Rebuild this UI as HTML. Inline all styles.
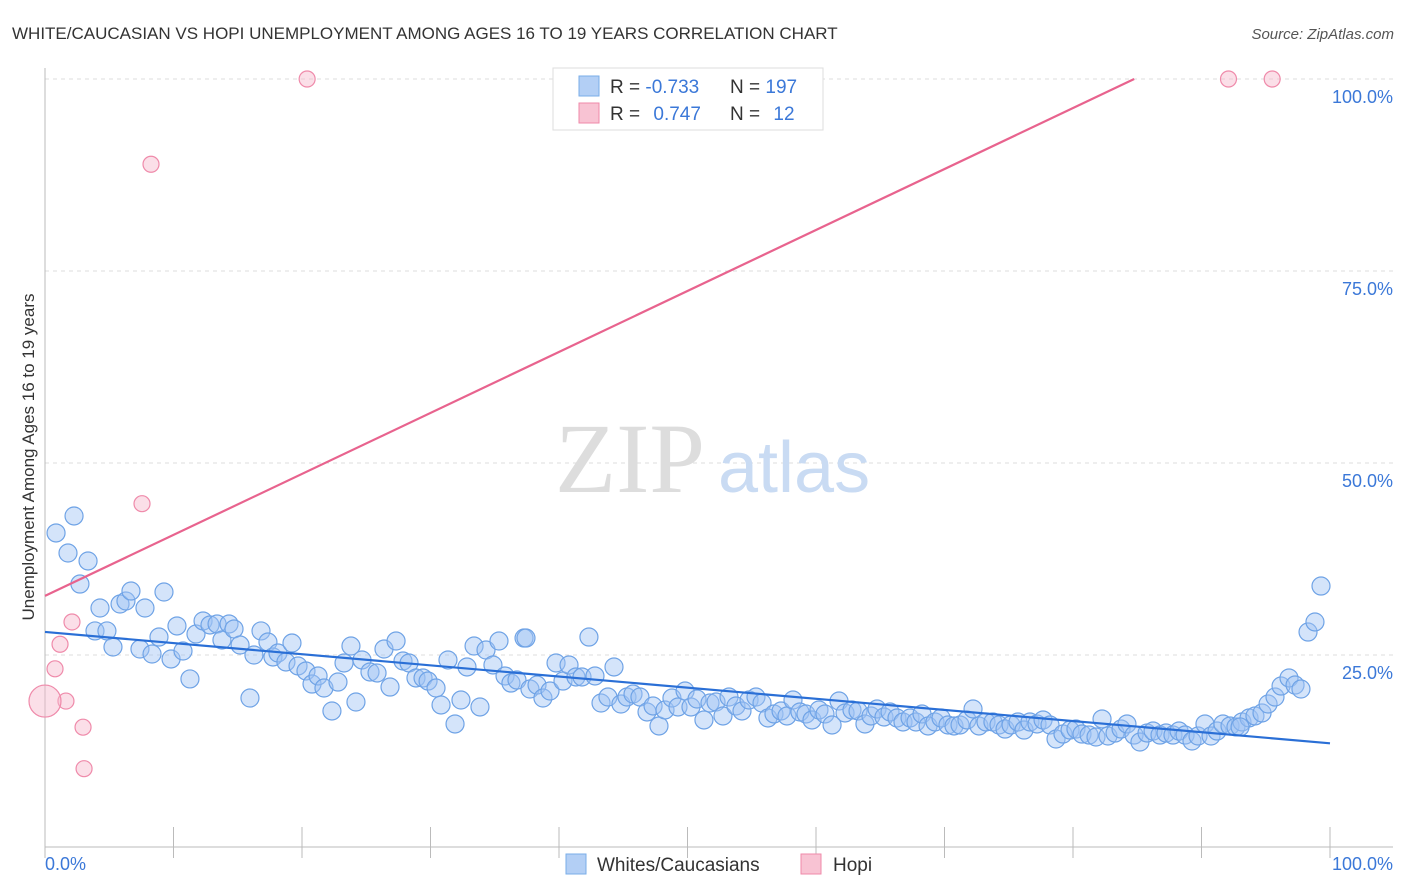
<!DOCTYPE html>
<html><head><meta charset="utf-8"><style>
body{margin:0;background:#fff;font-family:"Liberation Sans",sans-serif}
svg{display:block}
</style></head><body>
<svg id="c" width="1406" height="892">
<text x="12" y="39" font-size="17" fill="#333">WHITE/CAUCASIAN VS HOPI UNEMPLOYMENT AMONG AGES 16 TO 19 YEARS CORRELATION CHART</text>
<text x="1394" y="39" font-size="15" fill="#555" font-style="italic" text-anchor="end">Source: ZipAtlas.com</text>
<g id="grid"></g>
<text x="555" y="492" font-size="100" font-family="Liberation Serif,serif" fill="#ddd">ZIP</text>
<text x="718" y="492" font-size="72" fill="#c9dbf3">atlas</text>
<g id="marks"></g>
<text transform="translate(34,457) rotate(-90)" font-size="17" fill="#333" text-anchor="middle">Unemployment Among Ages 16 to 19 years</text>
<g>
<rect x="553" y="68" width="270" height="62" fill="#fff" stroke="#ddd"/>
<rect x="579" y="76" width="20" height="20" fill="#b3cff5" stroke="#7aaee8"/>
<rect x="579" y="103" width="20" height="20" fill="#f8c3d3" stroke="#ef8aaa"/>
<text x="610" y="93" font-size="19" fill="#333">R = <tspan fill="#3b78d8">-0.733</tspan></text>
<text x="730" y="93" font-size="19" fill="#333">N = <tspan fill="#3b78d8">197</tspan></text>
<text x="610" y="120" font-size="19" fill="#333">R = <tspan fill="#3b78d8" dx="8">0.747</tspan></text>
<text x="730" y="120" font-size="19" fill="#333">N = <tspan fill="#3b78d8" dx="8">12</tspan></text>
</g>
<g>
<rect x="566" y="854" width="20" height="20" fill="#b3cff5" stroke="#7aaee8"/>
<text x="597" y="871" font-size="19" fill="#333">Whites/Caucasians</text>
<rect x="801" y="854" width="20" height="20" fill="#f8c3d3" stroke="#ef8aaa"/>
<text x="833" y="871" font-size="19" fill="#333">Hopi</text>
</g>
</svg>
<script>
const yTicks=[25,50,75,100];
const yTickLabels=["25.0%","50.0%","75.0%","100.0%"];
const xTickLabels=["0.0%","100.0%"];
const blueLine=[28.0,13.5];
const pinkLine=[32.7,0.794];
const bluePx=[[56,533],[74,516],[68,553],[88,561],[80,584],[100,608],[95,631],[107,631],[113,647],[120,604],[126,601],[131,591],[145,608],[140,649],[152,654],[159,637],[164,592],[171,659],[177,626],[183,651],[190,679],[196,634],[203,621],[210,625],[217,624],[222,640],[229,624],[234,629],[240,645],[250,698],[254,655],[261,631],[268,642],[273,657],[278,653],[286,662],[292,643],[298,666],[306,671],[312,684],[318,676],[324,688],[332,711],[338,682],[344,663],[351,646],[356,702],[362,660],[370,672],[377,673],[384,649],[390,687],[396,641],[403,661],[409,663],[416,678],[423,678],[428,681],[436,688],[441,705],[448,660],[455,724],[461,700],[467,667],[474,646],[480,707],[486,650],[493,665],[499,641],[505,676],[511,683],[517,680],[524,638],[530,689],[537,685],[543,698],[550,691],[556,663],[563,681],[569,665],[576,677],[582,677],[589,637],[595,676],[601,703],[608,697],[614,667],[621,704],[627,697],[633,694],[640,697],[647,712],[653,706],[659,726],[665,710],[672,698],[678,707],[685,691],[691,707],[697,699],[704,720],[710,703],[716,702],[723,716],[729,697],[736,706],[742,711],[749,700],[756,697],[762,703],[768,718],[774,714],[781,711],[787,716],[793,700],[800,712],[806,714],[812,720],[819,710],[825,714],[832,725],[839,701],[845,713],[852,710],[858,711],[865,724],[871,716],[877,709],[884,717],[890,712],[897,718],[903,722],[910,718],[916,722],[922,714],[928,726],[935,722],[941,718],[948,725],[954,726],[960,725],[967,720],[973,709],[979,726],[986,722],[993,722],[999,725],[1005,729],[1011,725],[1018,722],[1024,730],[1030,722],[1037,724],[1043,720],[1050,725],[1056,739],[1063,734],[1070,730],[1076,729],[1082,734],[1089,735],[1096,737],[1102,719],[1108,736],[1115,733],[1121,729],[1127,724],[1134,735],[1140,742],[1147,733],[1153,731],[1160,735],[1166,733],[1173,735],[1179,731],[1185,735],[1192,741],[1198,736],[1205,724],[1211,736],[1217,731],[1223,724],[1230,726],[1236,727],[1242,722],[1249,718],[1255,716],[1262,713],[1268,704],[1275,697],[1281,686],[1289,678],[1295,685],[1301,689],[1308,632],[1315,622],[1321,586],[526,638],[1240,727]];
const blueX=bluePx.map(p=>+((p[0]-45)/12.85).toFixed(2));
const blueY=bluePx.map(p=>+((847-p[1])/7.68).toFixed(2));
const pinkX=[20.4,8.25,7.55,2.1,1.17,0.78,1.63,0,2.96,3.04,92.1,95.5];
const pinkY=[100,88.9,44.7,29.3,26.4,23.2,19.0,19.0,15.6,10.2,100,100];
const pinkR=[8,8,8,8,8,8,8,16,8,8,8,8];
const X=v=>45+v*12.85, Y=v=>847-v*7.68;
const NS="http://www.w3.org/2000/svg";
const svg=document.getElementById('c'),grid=document.getElementById('grid'),marks=document.getElementById('marks');
function mk(tag,at,parent){const e=document.createElementNS(NS,tag);for(const k in at)e.setAttribute(k,at[k]);parent.appendChild(e);return e;}
yTicks.forEach((t,i)=>{
 const l=mk('line',{x1:45,x2:1393,y1:Y(t),y2:Y(t),stroke:'#ddd','stroke-dasharray':'4,4'},grid);
 
 
 const tx=mk('text',{x:1393,y:Y(t)+24,'font-size':18,fill:'#3b78d8','text-anchor':'end'},grid);
 tx.textContent=yTickLabels[i];
 
 
});
const ax=mk('line',{x1:45,x2:45,y1:68,y2:847,stroke:'#bbb'},grid);


const bx=mk('line',{x1:45,x2:1393,y1:847,y2:847,stroke:'#bbb'},grid);


for(let i=0;i<=10;i++){const t=mk('line',{x1:X(i*10),x2:X(i*10),y1:827,y2:858,stroke:'#bbb'},grid);
 
 }
[[0,'start',45],[100,'end',1393]].forEach((d,i)=>{const t=mk('text',{x:d[2],y:870,'font-size':18,fill:'#3b78d8','text-anchor':d[1]},grid);t.textContent=xTickLabels[i];
 
 });
blueX.forEach((x,i)=>{const c=mk('circle',{cx:X(x),cy:Y(blueY[i]),r:9,fill:'rgba(160,195,243,0.45)',stroke:'#6fa3e6','stroke-width':1.2},marks);
 
 });
pinkX.forEach((x,i)=>{const c=mk('circle',{cx:X(x),cy:Y(pinkY[i]),r:pinkR[i],fill:'rgba(246,185,205,0.45)',stroke:'#ef8aaa','stroke-width':1.2},marks);
 
 });
const bl=mk('line',{x1:X(0),y1:Y(blueLine[0]),x2:X(100),y2:Y(blueLine[1]),stroke:'#2a6fd6','stroke-width':2.2},marks);


const xe=(100-pinkLine[0])/pinkLine[1];
const pl=mk('line',{x1:X(0),y1:Y(pinkLine[0]),x2:X(xe),y2:Y(100),stroke:'#e8638e','stroke-width':2.2},marks);


</script>
</body></html>
